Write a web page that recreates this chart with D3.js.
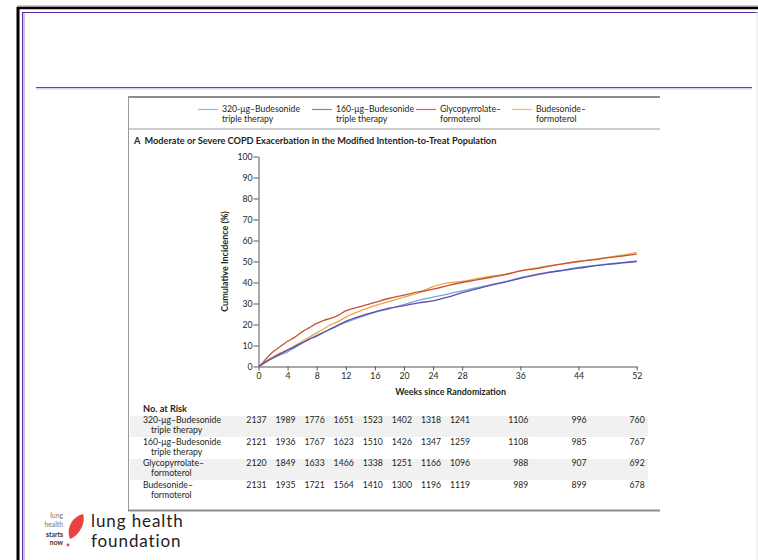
<!DOCTYPE html>
<html><head><meta charset="utf-8">
<script src="https://cdn.jsdelivr.net/npm/d3@7/dist/d3.min.js"></script>
<style>
body{margin:0;background:#fff;}
svg{display:block;}
text{font-family:Lato,"Open Sans",sans-serif;fill:#231f20;}
</style>
</head><body>
<svg id="c" width="758" height="560"></svg>
<script>
// ---------- data ----------
const weeks = [0,0.5,1,2,3,4,5,6,7,8,9,10,11,12,14,16,18,20,22,24,26,28,30,32,34,36,38,40,42,44,46,48,50,52];
const bud320 = [0,1,2,4,5.5,7,9,11,13,14.8,16.5,18,19.5,21,23.5,25.8,27.5,29.5,31.5,33,34.5,36,37.5,39,40.5,42.3,43.7,45,46,47.2,48,48.8,49.5,50.3];
const bud160 = [0,1,2.2,4.2,6,7.8,9.5,11.3,13,14.5,16.3,18,19.8,21.5,24,26,27.8,29,30.3,31.3,33,35.2,37,38.8,40.3,42,43.5,44.8,45.8,46.8,47.8,48.6,49.3,50];
const glyForm = [0,1.5,3.5,7,9.5,12,14,16.5,18.5,20.5,22,23,24.5,26.5,28.5,30.5,32.5,34,35.5,36.8,38.5,40,41.2,42.5,43.8,45.5,46.5,47.8,49,50,50.8,51.8,52.6,53.5];
const budForm = [0,1,2.5,4.5,6.5,8,10,12,14,16,18,20,21.5,23.5,26.5,29,31,33,35,38,39.8,40.5,41.8,43,44,45.5,46.8,48,49,50,51,52,53,54.3];

const seriesLabels = [["320-\u03bcg\u2013Budesonide","triple therapy"],["160-\u03bcg\u2013Budesonide","triple therapy"],["Glycopyrrolate\u2013","formoterol"],["Budesonide\u2013","formoterol"]];
const seriesColors = ["#7ea3dc","#5b4fae","#c8503c","#eea63a"];
const legendColors = ["#9bb6e3","#8a7fc2","#d26a50","#f2bb66"];

const xTicks = [0,4,8,12,16,20,24,28,36,44,52];
const yTicks = [0,10,20,30,40,50,60,70,80,90,100];

const riskWeeks = [0,4,8,12,16,20,24,28,36,44,52];
const risk320 = [2137,1989,1776,1651,1523,1402,1318,1241,1106,996,760];
const risk160 = [2121,1936,1767,1623,1510,1426,1347,1259,1108,985,767];
const riskGly = [2120,1849,1633,1466,1338,1251,1166,1096,988,907,692];
const riskBud = [2131,1935,1721,1564,1410,1300,1196,1119,989,899,678];

const titleText = "A  Moderate or Severe COPD Exacerbation in the Modified Intention-to-Treat Population";
const yLabel = "Cumulative Incidence (%)";
const xLabel = "Weeks since Randomization";

// ---------- drawing ----------
const svg = d3.select("#c");

// outer frames
svg.append("line").attr("x1",17).attr("x2",758).attr("y1",6).attr("y2",6).attr("stroke","#9a9a9a").attr("stroke-width",1);
svg.append("line").attr("x1",17).attr("x2",758).attr("y1",8).attr("y2",8).attr("stroke","#000").attr("stroke-width",2.5);
svg.append("line").attr("x1",18).attr("x2",18).attr("y1",7).attr("y2",560).attr("stroke","#000").attr("stroke-width",3);
svg.append("line").attr("x1",22).attr("x2",758).attr("y1",12.5).attr("y2",12.5).attr("stroke","#5a2ea6").attr("stroke-width",1.2);
svg.append("line").attr("x1",22.5).attr("x2",22.5).attr("y1",12).attr("y2",560).attr("stroke","#5a2ea6").attr("stroke-width",1);
svg.append("line").attr("x1",24).attr("x2",24).attr("y1",13).attr("y2",560).attr("stroke","#c2aee6").attr("stroke-width",1.5);
svg.append("line").attr("x1",36).attr("x2",752).attr("y1",87.5).attr("y2",87.5).attr("stroke","#6a3fb2").attr("stroke-width",1.2);
svg.append("line").attr("x1",36).attr("x2",752).attr("y1",88.8).attr("y2",88.8).attr("stroke","#cdb8ee").attr("stroke-width",1);
svg.append("line").attr("x1",757).attr("x2",757).attr("y1",12).attr("y2",560).attr("stroke","#e6e6e6").attr("stroke-width",1);

// chart box
svg.append("line").attr("x1",128).attr("x2",660).attr("y1",97).attr("y2",97).attr("stroke","#8c8c8c").attr("stroke-width",2);
svg.append("line").attr("x1",128.5).attr("x2",128.5).attr("y1",96).attr("y2",511).attr("stroke","#9a9a9a").attr("stroke-width",1);
svg.append("line").attr("x1",128).attr("x2",660).attr("y1",510.5).attr("y2",510.5).attr("stroke","#8c8c8c").attr("stroke-width",2);
svg.append("line").attr("x1",129).attr("x2",660).attr("y1",129).attr("y2",129).attr("stroke","#9a9a9a").attr("stroke-width",1);

// legend
const legX = [198,312,416,512];
seriesLabels.forEach((lab,i)=>{
  const g = svg.append("g");
  g.append("line").attr("x1",legX[i]).attr("x2",legX[i]+20).attr("y1",109.5).attr("y2",109.5)
    .attr("stroke",legendColors[i]).attr("stroke-width",1.2);
  g.append("text").attr("x",legX[i]+24).attr("y",112).attr("font-size",8.7).text(lab[0]);
  g.append("text").attr("x",legX[i]+24).attr("y",121.5).attr("font-size",8.7).text(lab[1]);
});

// title
svg.append("text").attr("x",134).attr("y",144).attr("font-size",9.2).attr("font-weight","bold").attr("xml:space","preserve").text(titleText);

// scales
const x = d3.scaleLinear().domain([0,52]).range([258.5,636.7]);
const y = d3.scaleLinear().domain([0,100]).range([366.5,156.5]);

const yAxis = d3.axisLeft(y).tickValues(yTicks).tickSize(5).tickSizeOuter(0).tickPadding(1);
const gy = svg.append("g").attr("transform",`translate(${x(0)},0)`).call(yAxis);
const xAxis = d3.axisBottom(x).tickValues(xTicks).tickSize(4).tickSizeOuter(0).tickPadding(2);
const gx = svg.append("g").attr("transform",`translate(0,${y(0)})`).call(xAxis);
[gx,gy].forEach(g=>{
  g.select(".domain").attr("stroke","#555").attr("stroke-width",1);
  g.selectAll(".tick line").attr("stroke","#555");
  g.selectAll(".tick text").attr("font-size",8.7).attr("font-family","Lato, sans-serif").attr("fill","#231f20");
});

// axis labels
svg.append("text").attr("transform",`translate(228,${y(50)}) rotate(-90)`).attr("text-anchor","middle")
  .attr("font-size",9).attr("font-weight","bold").text(yLabel);
svg.append("text").attr("x",x(26)+3).attr("y",395).attr("text-anchor","middle")
  .attr("font-size",8.9).attr("font-weight","bold").text(xLabel);

// curves
const allSeries = [budForm, glyForm, bud320, bud160];
const drawColors = [seriesColors[3], seriesColors[2], seriesColors[0], seriesColors[1]];
const line = d3.line().x((d,i)=>x(weeks[i])).y(d=>y(d)).curve(d3.curveMonotoneX);
allSeries.forEach((s,i)=>{
  svg.append("path").datum(s).attr("d",line).attr("fill","none")
    .attr("stroke",drawColors[i]).attr("stroke-width",1.3);
});

// number at risk table
svg.append("text").attr("x",143).attr("y",412).attr("font-size",9.2).attr("font-weight","bold").text("No. at Risk");
const riskRows = [risk320, risk160, riskGly, riskBud];
const rowTop = [416,438,459,481];
riskRows.forEach((row,i)=>{
  if(i%2===0){
    svg.append("rect").attr("x",130).attr("y",rowTop[i]).attr("width",518).attr("height",21).attr("fill","#f1f1f1");
  }
  const base = rowTop[i]+7;
  svg.append("text").attr("x",143).attr("y",base).attr("font-size",8.7).text(seriesLabels[i][0]);
  svg.append("text").attr("x",151).attr("y",base+9.5).attr("font-size",8.7).text(seriesLabels[i][1]);
  row.forEach((v,j)=>{
    svg.append("text").attr("x",x(riskWeeks[j])+8).attr("y",base).attr("text-anchor","end")
      .attr("font-size",8.7).text(v);
  });
});

// logo
const logoSmall = [["lung",518,"normal","#777"],["health",527,"normal","#777"],["starts",537,"bold","#333"],["now",545,"bold","#333"]];
logoSmall.forEach(d=>{
  svg.append("text").attr("x",63).attr("y",d[1]).attr("text-anchor","end").attr("font-size",6.8)
    .attr("font-family","Roboto, sans-serif").attr("font-weight",d[2]).style("fill",d[3]).text(d[0]);
});
svg.append("path").attr("d","M70,539 C66,530 71,517 83,514 C86,522 80,535 70,539 Z").attr("fill","#e8413f");
svg.append("circle").attr("cx",68).attr("cy",545).attr("r",1.4).attr("fill","#e8413f");
svg.append("text").attr("x",91).attr("y",527).attr("font-size",17).attr("letter-spacing",0.9)
  .attr("font-family","Roboto, sans-serif").style("fill","#222").text("lung health");
svg.append("text").attr("x",91).attr("y",547).attr("font-size",17).attr("letter-spacing",0.9)
  .attr("font-family","Roboto, sans-serif").style("fill","#222").text("foundation");
</script>
</body></html>
